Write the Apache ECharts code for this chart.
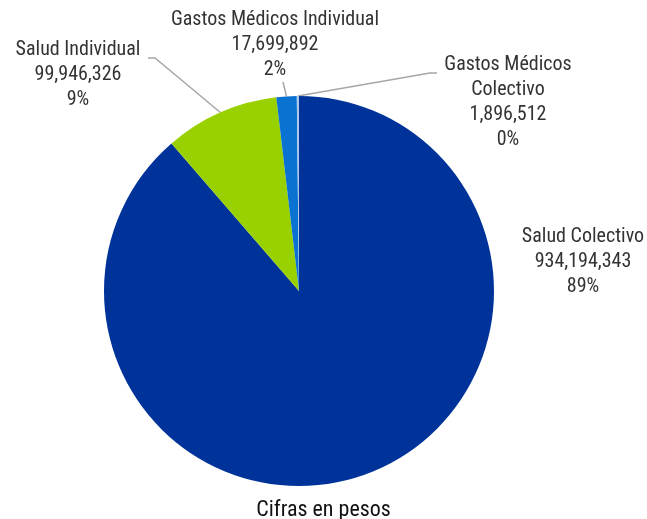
<!DOCTYPE html>
<html>
<head>
<meta charset="utf-8">
<script src="https://cdn.jsdelivr.net/npm/echarts@6/dist/echarts.min.js"></script>
<style>
  html, body { margin: 0; padding: 0; background: #fff; }
  #chart { width: 647px; height: 519px; }
</style>
</head>
<body>
<div id="chart"></div>
<script>
const categories = ['Salud Colectivo', 'Salud Individual', 'Gastos Médicos Individual', 'Gastos Médicos Colectivo']
const values = [934194343, 99946326, 17699892, 1896512]
const colors = ['#003399', '#99d100', '#0a72d0', '#a9c8ea']
// label text name shown (with manual line breaks)
const labelNames = ['Salud Colectivo', 'Salud Individual', 'Gastos Médicos Individual', 'Gastos Médicos\nColectivo']
// label anchor points (centre of each text block)
const labelPos = [[583, 262], [78, 75], [275, 45], [508, 102]]
// label-side end of the leader lines (elbow, end); slice end comes from the pie
const leaderEnds = [null, [[155, 58], [148, 58]], [[283, 82]], [[430, 73], [437, 73]]]

const FONT = '"Roboto Condensed", "Liberation Sans Narrow", "Roboto", sans-serif'

const chart = echarts.init(document.getElementById('chart'))

const option = {
  animation: false,
  title: {
    text: 'Cifras en pesos',
    left: 'center',
    top: 494,
    textStyle: { fontFamily: FONT, fontSize: 22, fontWeight: 'normal', color: '#111' }
  },
  series: [{
    type: 'pie',
    center: [299, 291],
    radius: 195,
    startAngle: 90,
    clockwise: true,
    percentPrecision: 0,
    data: categories.map((c, i) => ({
      name: c,
      value: values[i],
      itemStyle: { color: colors[i] },
      labelLine: { show: i !== 0 }
    })),
    label: {
      show: true,
      position: 'outside',
      overflow: 'none',
      fontFamily: FONT,
      fontSize: 20,
      lineHeight: 25,
      color: '#333',
      align: 'center',
      formatter: p => labelNames[p.dataIndex] + '\n' + p.value.toLocaleString('en-US') + '\n' + p.percent + '%'
    },
    labelLine: {
      show: true,
      length: 15,
      length2: 10,
      lineStyle: { color: '#a6a6a6', width: 1.5 }
    },
    labelLayout: p => {
      const i = p.dataIndex
      const res = {
        x: labelPos[i][0],
        y: labelPos[i][1],
        align: 'center',
        verticalAlign: 'middle'
      }
      if (leaderEnds[i] && p.labelLinePoints && p.labelLinePoints.length) {
        res.labelLinePoints = [p.labelLinePoints[0]].concat(leaderEnds[i])
      }
      return res
    }
  }]
}

chart.setOption(option)
</script>
</body>
</html>
